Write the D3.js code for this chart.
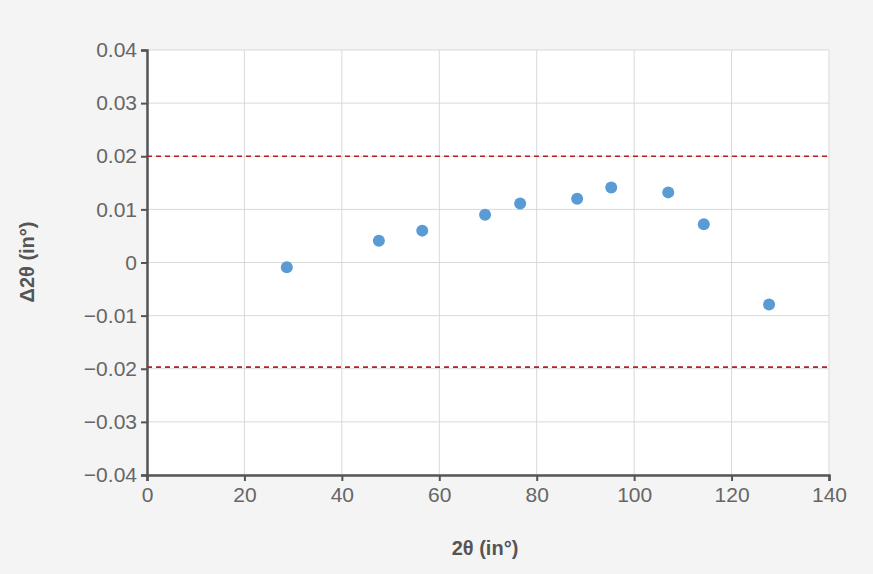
<!DOCTYPE html>
<html><head><meta charset="utf-8">
<script src="https://cdn.jsdelivr.net/npm/d3@7"></script>
<style>body{margin:0;background:#f4f4f4;}</style>
</head><body><div class="chart"></div>
<script>
const xVals = [28.7, 47.6, 56.5, 69.4, 76.6, 88.3, 95.3, 107.0, 114.3, 127.7];
const yVals = [-0.0009, 0.0041, 0.006, 0.009, 0.0111, 0.012, 0.0141, 0.0132, 0.0072, -0.0079];
const limits = [0.02, -0.0197];
const xTicks = [0, 20, 40, 60, 80, 100, 120, 140];
const yTicks = [-0.04, -0.03, -0.02, -0.01, 0, 0.01, 0.02, 0.03, 0.04];

const svg = d3.select('.chart').append('svg').attr('width', 873).attr('height', 574);
const x = d3.scaleLinear().domain([0, 140]).range([147, 829]);
const y = d3.scaleLinear().domain([-0.04, 0.04]).range([475, 50]);

svg.append('rect').attr('x', 147).attr('y', 50).attr('width', 682).attr('height', 425).attr('fill', '#fff');

// grid
svg.selectAll('.gx').data(xTicks).enter().append('line')
    .attr('x1', d => x(d)).attr('x2', d => x(d)).attr('y1', 50).attr('y2', 475)
    .attr('stroke', '#d9d9d9');
svg.selectAll('.gy').data(yTicks).enter().append('line')
    .attr('x1', 147).attr('x2', 829).attr('y1', d => y(d)).attr('y2', d => y(d))
    .attr('stroke', '#d9d9d9');

const fmt = d => d === 0 ? '0' : (d < 0 ? '\u2212' + d3.format('.2f')(-d) : d3.format('.2f')(d));
const yAxis = svg.append('g').attr('transform', 'translate(147,0)')
    .call(d3.axisLeft(y).tickValues(yTicks).tickFormat(fmt).tickSizeOuter(0).tickSize(6));
const xAxis = svg.append('g').attr('transform', 'translate(0,475)')
    .call(d3.axisBottom(x).tickValues(xTicks).tickSizeOuter(0).tickSize(6));
[xAxis, yAxis].forEach(g => {
    g.select('.domain').attr('stroke', '#555').attr('stroke-width', 2.5);
    g.selectAll('.tick line').attr('stroke', '#555').attr('stroke-width', 2);
    g.selectAll('text').attr('fill', '#666').attr('font-size', 21).attr('font-family', 'Liberation Sans, Arial, sans-serif');
});
yAxis.selectAll('text').attr('x', -10);
xAxis.selectAll('text').attr('y', 12);

svg.selectAll('.lim').data(limits).enter().append('line')
    .attr('x1', 147).attr('x2', 829).attr('y1', d => y(d)).attr('y2', d => y(d))
    .attr('stroke', '#b22222').attr('stroke-width', 1.6).attr('stroke-dasharray', '5,4');

svg.selectAll('.pt').data(xVals).enter().append('circle')
    .attr('cx', d => x(d)).attr('cy', (d, i) => y(yVals[i])).attr('r', 6)
    .attr('fill', '#5b9bd5');

svg.append('text').attr('x', 485).attr('y', 555).attr('text-anchor', 'middle')
    .attr('font-family', 'Liberation Sans, Arial, sans-serif').attr('font-weight', 'bold')
    .attr('font-size', 20).attr('fill', '#555').text('2θ (in°)');
svg.append('text').attr('transform', 'translate(34,262) rotate(-90)').attr('text-anchor', 'middle')
    .attr('font-family', 'Liberation Sans, Arial, sans-serif').attr('font-weight', 'bold')
    .attr('font-size', 20).attr('fill', '#555').text('Δ2θ (in°)');
</script></body></html>
